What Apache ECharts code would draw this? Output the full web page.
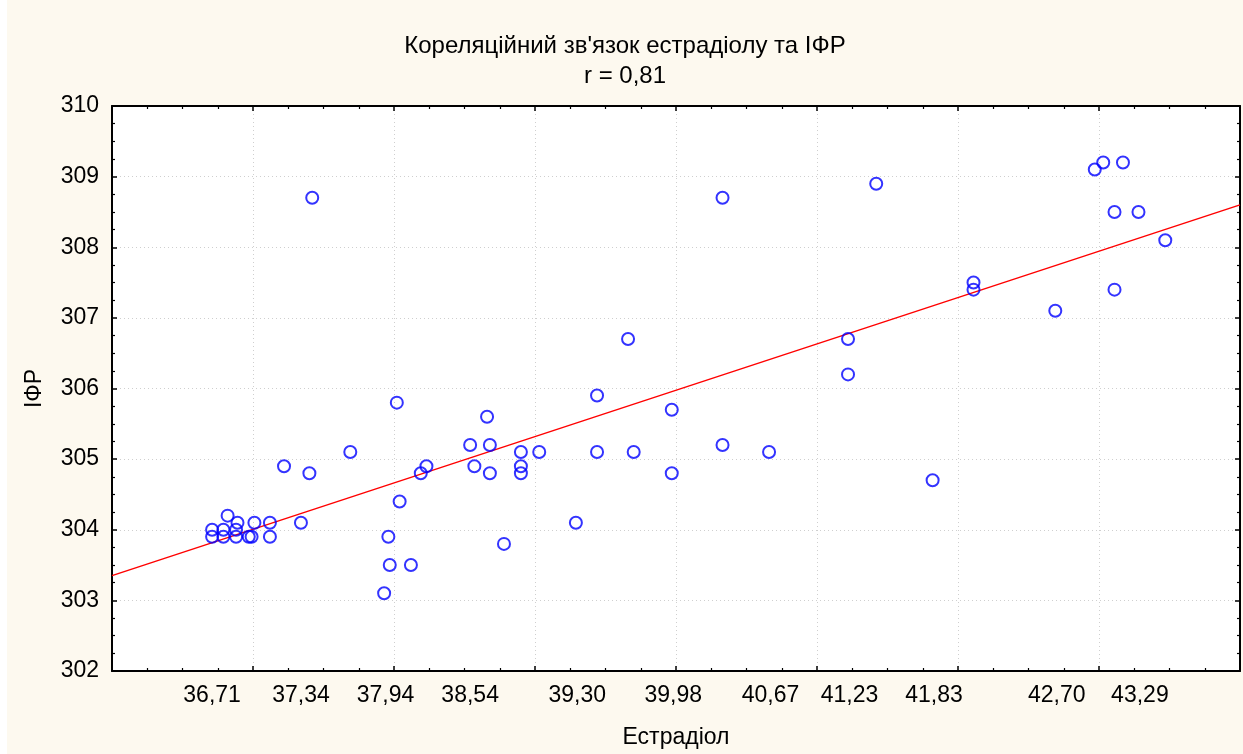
<!DOCTYPE html>
<html>
<head>
<meta charset="utf-8">
<script src="https://cdn.jsdelivr.net/npm/echarts@6/dist/echarts.min.js"></script>
<style>
html,body{margin:0;padding:0;background:#fff;}
#main{width:1236px;height:754px;margin-left:7px;}
</style>
</head>
<body>
<div id="main"></div>
<script>
// Data
const estradiol = [
  36.71, 36.71, 36.79, 36.79, 36.82, 36.88, 36.88, 36.89, 36.97, 36.99,
  37.01, 37.12, 37.12, 37.22, 37.34, 37.40, 37.42, 37.69, 37.93, 37.96,
  37.97, 38.02, 38.04, 38.12, 38.19, 38.23, 38.54, 38.57, 38.66, 38.68,
  38.68, 38.78, 38.90, 38.90, 38.90, 39.03, 39.29, 39.44, 39.44, 39.66,
  39.70, 39.97, 39.97, 40.33, 40.33, 40.66, 41.22, 41.22, 41.42, 41.82,
  42.11, 42.11, 42.69, 42.97, 43.03, 43.11, 43.11, 43.17, 43.28, 43.47
];
const ifr = [
  304.0, 303.9, 304.0, 303.9, 304.2, 304.0, 303.9, 304.1, 303.9, 303.9,
  304.1, 304.1, 303.9, 304.9, 304.1, 304.8, 308.7, 305.1, 303.1, 303.9,
  303.5, 305.8, 304.4, 303.5, 304.8, 304.9, 305.2, 304.9, 305.6, 304.8,
  305.2, 303.8, 305.1, 304.9, 304.8, 305.1, 304.1, 305.9, 305.1, 306.7,
  305.1, 305.7, 304.8, 308.7, 305.2, 305.1, 306.7, 306.2, 308.9, 304.7,
  307.5, 307.4, 307.1, 309.1, 309.2, 308.5, 307.4, 309.2, 308.5, 308.1
];
// Regression line end points
const fitX = [36, 44];
const fitY = [303.35, 308.6];
// Custom x tick labels
const xTickLabels = [36.71, 37.34, 37.94, 38.54, 39.30, 39.98, 40.67, 41.23, 41.83, 42.70, 43.29];

const FONT = 'Liberation Sans, Arial, sans-serif';
const fmtX = v => Number(v).toFixed(2).replace('.', ',');

const chart = echarts.init(document.getElementById('main'), null, {renderer: 'canvas'});

const baseAxisCommon = {
  axisLine: {show: true, onZero: false, lineStyle: {color: '#000', width: 2}},
  axisTick: {show: true, inside: true, length: 5, lineStyle: {color: '#000', width: 1.5}},
  minorTick: {show: true, splitNumber: 4, length: 3, lineStyle: {color: '#000', width: 1.2}},
  splitLine: {show: false}
};

chart.setOption({
  backgroundColor: '#fdf9ef',
  animation: false,
  title: {
    text: "Кореляційний зв'язок естрадіолу та ІФР\nr = 0,81",
    left: 'center',
    top: 26,
    padding: 5,
    textStyle: {fontFamily: FONT, fontSize: 24, fontWeight: 'normal', color: '#000', lineHeight: 30}
  },
  grid: {
    left: 105, right: 3, top: 106, bottom: 80,
    show: true, backgroundColor: '#ffffff', borderColor: '#000', borderWidth: 0
  },
  xAxis: [
    Object.assign({}, baseAxisCommon, {
      type: 'value', min: 36, max: 44, interval: 1, position: 'bottom',
      name: 'Естрадіол', nameLocation: 'middle', nameGap: 55,
      nameTextStyle: {fontFamily: FONT, fontSize: 23, color: '#000'},
      axisLabel: {show: true, customValues: xTickLabels, formatter: fmtX, margin: 13,
        fontFamily: FONT, fontSize: 23, color: '#000'},
      splitLine: {show: true, lineStyle: {type: [1, 3], color: '#cfcfcf', width: 1}}
    }),
    Object.assign({}, baseAxisCommon, {
      type: 'value', min: 36, max: 44, interval: 1, position: 'top',
      axisLabel: {show: false}
    })
  ],
  yAxis: [
    Object.assign({}, baseAxisCommon, {
      type: 'value', min: 302, max: 310, interval: 1, position: 'left',
      name: 'ІФР', nameLocation: 'middle', nameGap: 66, nameRotate: 90,
      nameTextStyle: {fontFamily: FONT, fontSize: 23, color: '#000'},
      axisLabel: {show: true, margin: 13, fontFamily: FONT, fontSize: 23, color: '#000'},
      splitLine: {show: true, lineStyle: {type: [1, 3], color: '#cfcfcf', width: 1}}
    }),
    Object.assign({}, baseAxisCommon, {
      type: 'value', min: 302, max: 310, interval: 1, position: 'right',
      axisLabel: {show: false}
    })
  ],
  series: [
    {
      type: 'line',
      data: fitX.map((x, i) => [x, fitY[i]]),
      symbol: 'none',
      lineStyle: {color: '#ff0000', width: 1.5},
      silent: true,
      z: 2
    },
    {
      type: 'scatter',
      data: estradiol.map((x, i) => [x, ifr[i]]),
      symbol: 'circle',
      symbolSize: 12,
      itemStyle: {color: 'rgba(0,0,0,0)', borderColor: '#0000ff', borderWidth: 2},
      z: 3
    }
  ]
});
</script>
</body>
</html>
